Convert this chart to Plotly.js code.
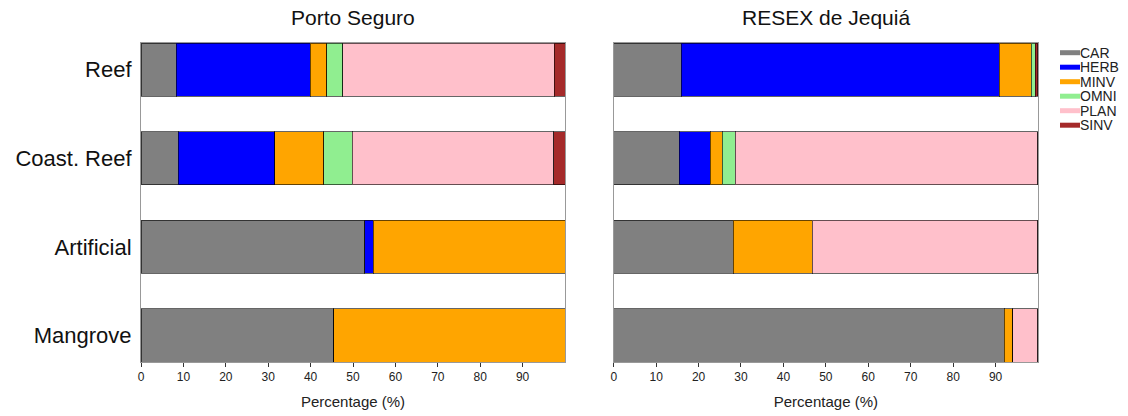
<!DOCTYPE html>
<html><head><meta charset="utf-8">
<script src="https://cdn.plot.ly/plotly-3.0.1.min.js"></script>
<style>body{margin:0;background:#fff}#c{width:1128px;height:416px}</style>
</head><body><div id="c"></div>
<script>
const habitats = ["Reef", "Coast. Reef", "Artificial", "Mangrove"];
const groups = ["CAR", "HERB", "MINV", "OMNI", "PLAN", "SINV"];
const colors = ["#808080", "#0000ff", "#ffa500", "#90ee90", "#ffc0cb", "#a52a2a"];
const panelTitles = ["Porto Seguro", "RESEX de Jequiá"];
// values per group, in habitat order [Reef, Coast. Reef, Artificial, Mangrove]
const portoCAR  = [8.3, 8.8, 52.8, 45.4];
const portoHERB = [31.6, 22.7, 2.0, 0];
const portoMINV = [3.9, 11.6, 45.2, 54.6];
const portoOMNI = [3.8, 6.7, 0, 0];
const portoPLAN = [49.9, 47.6, 0, 0];
const portoSINV = [2.5, 2.6, 0, 0];
const resexCAR  = [15.9, 15.4, 28.2, 92.0];
const resexHERB = [75.0, 7.4, 0, 0];
const resexMINV = [7.5, 2.8, 18.6, 2.1];
const resexOMNI = [1.0, 3.1, 0, 0];
const resexPLAN = [0, 71.3, 53.2, 5.9];
const resexSINV = [0.6, 0, 0, 0];
const xTicks = [0,10,20,30,40,50,60,70,80,90];

const porto = [portoCAR, portoHERB, portoMINV, portoOMNI, portoPLAN, portoSINV];
const resex = [resexCAR, resexHERB, resexMINV, resexOMNI, resexPLAN, resexSINV];

const traces = [];
[porto, resex].forEach((set, p) => {
  set.forEach((vals, i) => {
    traces.push({
      type: 'bar', orientation: 'h', x: vals, y: habitats, name: groups[i],
      xaxis: p === 0 ? 'x' : 'x2', yaxis: p === 0 ? 'y' : 'y2',
      marker: {color: colors[i], line: {color: 'rgba(0,0,0,0.6)', width: 1}},
      showlegend: false, hoverinfo: 'x+name'
    });
  });
});

const W = 1128, H = 416, ML = 141, MR = 90, MT = 43, MB = 54;
const PW = W - ML - MR, PH = H - MT - MB;
const px2x = (px) => (px - ML) / PW;
const py2y = (py) => (H - MB - py) / PH;

const xax = (dom) => ({domain: dom, range: [0, 100], tickvals: xTicks, ticks: 'outside', ticklen: 4,
  tickcolor: '#333', showgrid: false, zeroline: false, showline: true, linecolor: '#999', mirror: true,
  tickfont: {size: 12, color: '#222'}, title: {text: 'Percentage (%)', font: {size: 15, color: '#222'}, standoff: 13}, fixedrange: true});
const yax = (showLabels) => ({categoryorder: 'array', categoryarray: habitats.slice().reverse(),
  range: [-0.3, 3.3], showgrid: false, zeroline: false, showline: true, linecolor: '#999', mirror: true,
  showticklabels: showLabels, ticks: '', tickfont: {size: 22, color: '#111'}, ticklabelstandoff: 4, fixedrange: true});

// legend drawn as swatches + labels in the right margin
const legTop = 52.7, legStep = 14.5;
const shapes = groups.map((g, i) => ({type: 'line', xref: 'paper', yref: 'paper',
  x0: px2x(1060), x1: px2x(1080), y0: py2y(legTop + i * legStep), y1: py2y(legTop + i * legStep),
  line: {color: colors[i], width: 5}}));
const legendLabels = groups.map((g, i) => ({text: g, xref: 'paper', yref: 'paper',
  x: px2x(1080), y: py2y(legTop + i * legStep), xanchor: 'left', yanchor: 'middle', showarrow: false,
  font: {size: 14, color: '#222'}, xshift: -2}));

const lx = 0.4727, rx = 0.527;
const layout = {
  width: W, height: H, barmode: 'stack', bargap: 0.4,
  margin: {l: ML, r: MR, t: MT, b: MB, autoexpand: false},
  font: {family: 'Liberation Sans, Arial, sans-serif'},
  paper_bgcolor: '#fff', plot_bgcolor: '#fff',
  xaxis: xax([0, lx]), xaxis2: xax([rx, 1]),
  yaxis: yax(true), yaxis2: Object.assign(yax(false), {anchor: 'x2'}),
  showlegend: false,
  shapes: shapes,
  annotations: panelTitles.map((t, i) => ({text: t, xref: 'paper', yref: 'paper',
    x: i === 0 ? lx / 2 : (rx + 1) / 2, y: 1, yshift: 26, xanchor: 'center', yanchor: 'middle',
    showarrow: false, font: {size: 21, color: '#111'}})).concat(legendLabels)
};
layout.xaxis2.anchor = 'y2';
Plotly.newPlot('c', traces, layout, {displayModeBar: false, staticPlot: true});
</script></body></html>
